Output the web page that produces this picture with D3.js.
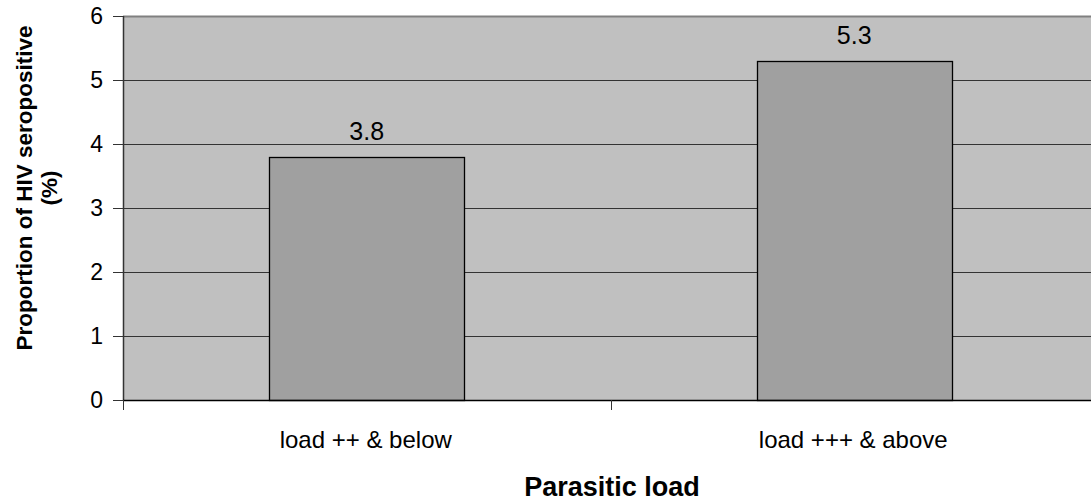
<!DOCTYPE html>
<html><head><meta charset="utf-8">
<script src="https://cdn.jsdelivr.net/npm/d3@7"></script>
<style>body{margin:0;background:#fff;} svg{display:block;font-family:"Liberation Sans",Arial,sans-serif;}</style>
</head><body>
<svg id="c" width="1091" height="503"></svg>
<script>
const categories = ["load ++ & below", "load +++ & above"];
const values = [3.8, 5.3];
const yTicks = [0, 1, 2, 3, 4, 5, 6];

const svg = d3.select("#c");
const L = 123, R = 1098, T = 16, B = 400;
const x = d3.scaleBand().domain(categories).range([L, R]).paddingInner(0.6).paddingOuter(0.3);
const xb = d3.scaleBand().domain(categories).range([L, R]);
const y = d3.scaleLinear().domain([0, 6]).range([B, T]);

svg.append("rect").attr("x", L).attr("y", T).attr("width", R - L).attr("height", B - T).attr("fill", "#c0c0c0");
// gridlines
svg.append("g").selectAll("line").data(yTicks.filter(d => d > 0 && d < 6)).join("line")
  .attr("x1", L).attr("x2", R).attr("y1", d => y(d) + 0.5).attr("y2", d => y(d) + 0.5)
  .attr("stroke", "#333").attr("stroke-width", 1);
svg.append("line").attr("x1", L).attr("x2", R).attr("y1", T + 0.5).attr("y2", T + 0.5).attr("stroke", "#808080").attr("stroke-width", 2);

// bars
svg.append("g").selectAll("rect").data(values).join("rect")
  .attr("x", (d, i) => Math.round(x(categories[i])) + 0.5)
  .attr("width", Math.round(x.bandwidth()))
  .attr("y", d => Math.round(y(d)) + 0.5)
  .attr("height", d => B - Math.round(y(d)))
  .attr("fill", "#a0a0a0").attr("stroke", "#000").attr("stroke-width", 1.3);

// value labels
svg.append("g").selectAll("text").data(values).join("text")
  .attr("x", (d, i) => x(categories[i]) + x.bandwidth() / 2)
  .attr("y", d => y(d) - 17)
  .attr("text-anchor", "middle").style("font-size", "25px").attr("fill", "#000")
  .text(d => d.toFixed(1));

// y axis
const ya = svg.append("g").attr("transform", `translate(${L},0)`)
  .call(d3.axisLeft(y).tickValues(yTicks).tickSize(10).tickPadding(10).tickFormat(d3.format("d")));
ya.attr("font-size", null).attr("font-family", null);
ya.select(".domain").attr("stroke", "#333").attr("stroke-width", 1.5).attr("d", `M0.5,${T}V${B}`);
ya.selectAll(".tick line").attr("stroke", "#333");
ya.selectAll(".tick text").style("font-size", "23px").attr("fill", "#000");

// x axis
const xa = svg.append("g").attr("transform", `translate(0,${B})`);
xa.append("line").attr("x1", L).attr("x2", R).attr("y1", 0.5).attr("y2", 0.5).attr("stroke", "#000").attr("stroke-width", 1.5);
const tickPos = [L, ...categories.slice(1).map(c => xb(c)), R];
xa.selectAll("line.t").data(tickPos).join("line").attr("class", "t")
  .attr("x1", d => Math.round(d) + 0.5).attr("x2", d => Math.round(d) + 0.5).attr("y1", 0).attr("y2", 10)
  .attr("stroke", "#333");
xa.selectAll("text").data(categories).join("text")
  .attr("x", d => xb(d) + xb.bandwidth() / 2 - 1).attr("y", 48)
  .attr("text-anchor", "middle").style("font-size", "24px").attr("fill", "#000").text(d => d);

// titles
svg.append("text").attr("x", 612).attr("y", 496).attr("text-anchor", "middle")
  .style("font-size", "27px").attr("font-weight", "bold").text("Parasitic load");
const yt = svg.append("text").attr("transform", "translate(0,188) rotate(-90)")
  .attr("text-anchor", "middle").style("font-size", "22.5px").attr("font-weight", "bold");
yt.append("tspan").attr("x", 0).attr("y", 32).text("Proportion of HIV seropositive");
yt.append("tspan").attr("x", 0).attr("y", 57).text("(%)");
</script>
</body></html>
